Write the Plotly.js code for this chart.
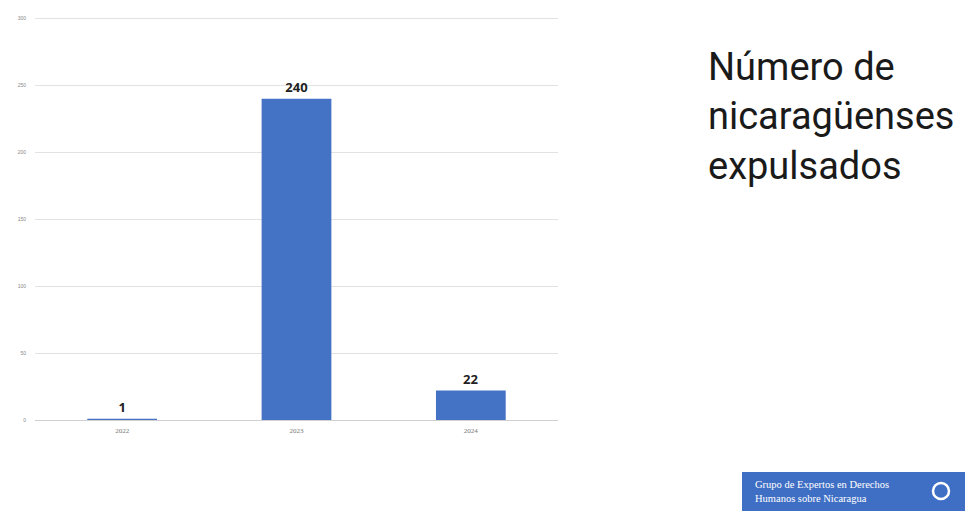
<!DOCTYPE html>
<html>
<head>
<meta charset="utf-8">
<script src="https://cdn.plot.ly/plotly-3.0.1.min.js"></script>
<style>html,body{margin:0;padding:0;background:#fff;}#chart{width:965px;height:511px;}</style>
</head>
<body>
<div id="chart"></div>
<script>
const years = ['2022', '2023', '2024'];
const expelled = [1, 240, 22];
const yTicks = [0, 50, 100, 150, 200, 250, 300];
const titleLines = ['Número de', 'nicaragüenses', 'expulsados'];
const logoLines = ['Grupo de Expertos en Derechos', 'Humanos sobre Nicaragua'];

const trace = {
  type: 'bar',
  x: years,
  y: expelled,
  marker: {color: '#4472C4'},
  text: expelled.map(String),
  textposition: 'outside',
  cliponaxis: false,
  textfont: {family: 'Open Sans, Arial, sans-serif', size: 13, color: '#222222', weight: 'bold'},
  hoverinfo: 'none'
};

const layout = {
  width: 965,
  height: 511,
  margin: {l: 35, r: 407, t: 17, b: 91},
  paper_bgcolor: '#ffffff',
  plot_bgcolor: '#ffffff',
  showlegend: false,
  bargap: 0.6,
  xaxis: {
    type: 'category',
    showgrid: false,
    showline: true,
    linecolor: '#d0d0d0',
    linewidth: 1,
    ticks: '',
    tickfont: {family: 'Liberation Serif, serif', size: 7, color: '#777777'},
    ticklabelstandoff: 4
  },
  yaxis: {
    range: [0, 301],
    tickvals: yTicks,
    ticktext: yTicks.map(String),
    showgrid: true,
    gridcolor: '#e2e2e2',
    gridwidth: 1,
    zeroline: false,
    showline: false,
    ticks: '',
    tickfont: {family: 'Liberation Sans, sans-serif', size: 5, color: '#888888'},
    ticklabelstandoff: 8
  },
  shapes: [
    {type: 'rect', xref: 'paper', yref: 'paper',
     x0: (742 - 35) / 523, x1: (965 - 35) / 523,
     y0: (420 - 472) / 403, y1: (420 - 511) / 403,
     fillcolor: '#3f6fc4', line: {width: 0}},
    {type: 'circle', xref: 'paper', yref: 'paper',
     x0: (933 - 35) / 523, x1: (949 - 35) / 523,
     y0: (420 - 483) / 403, y1: (420 - 499) / 403,
     fillcolor: 'rgba(0,0,0,0)', line: {color: '#ffffff', width: 2.5}}
  ],
  annotations: [
    {xref: 'paper', yref: 'paper', x: (706 - 35) / 523, y: (420 - 43) / 403,
     xanchor: 'left', yanchor: 'top', align: 'left', showarrow: false,
     text: titleLines.join('<br>'),
     font: {family: 'Roboto, sans-serif', size: 38, color: '#1a1a1a'}},
    {xref: 'paper', yref: 'paper', x: (753 - 35) / 523, y: (420 - 491) / 403,
     xanchor: 'left', yanchor: 'middle', align: 'left', showarrow: false,
     text: logoLines.join('<br>'),
     font: {family: 'Liberation Serif, serif', size: 10.5, color: '#ffffff'}}
  ]
};

Plotly.newPlot('chart', [trace], layout, {displayModeBar: false, staticPlot: true});
</script>
</body>
</html>
